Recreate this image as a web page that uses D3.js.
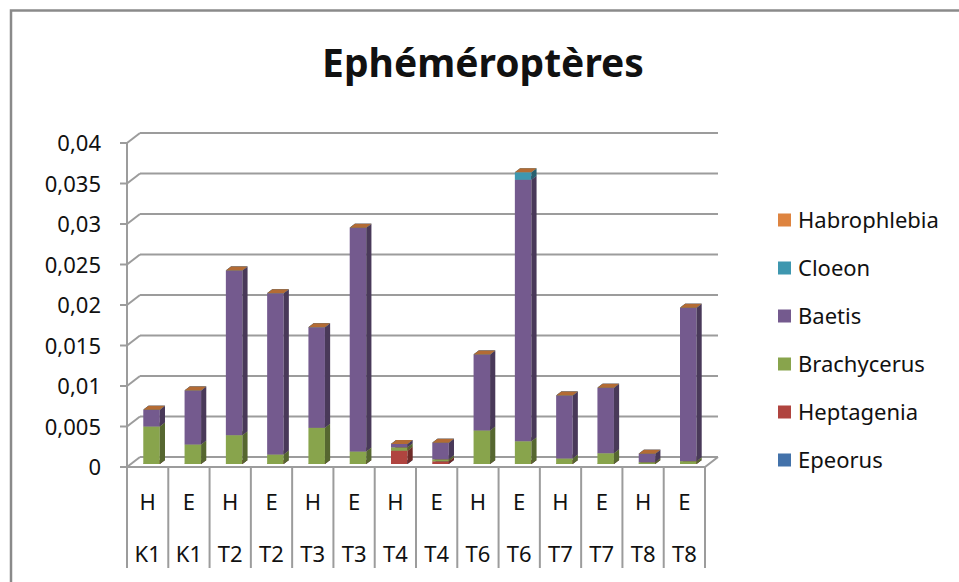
<!DOCTYPE html>
<html>
<head>
<meta charset="utf-8">
<script src="https://cdnjs.cloudflare.com/ajax/libs/d3/7.8.5/d3.min.js"></script>
<style>
  body { margin: 0; background: #fff; }
  text { font-family: "Noto Sans", "Open Sans", sans-serif; fill: #111; }
</style>
</head>
<body>
<div id="chart"></div>
<script>
// categories (two label rows)
var seasons  = ["H","E","H","E","H","E","H","E","H","E","H","E","H","E"];
var stations = ["K1","K1","T2","T2","T3","T3","T4","T4","T6","T6","T7","T7","T8","T8"];

// series, bottom of the stack first
var epeorus      = [0,0,0,0,0,0,0,0,0,0,0,0,0,0];
var heptagenia   = [0,0,0,0,0,0,0.00164,0.00033,0,0,0,0,0,0];
var brachycerus  = [0.00463,0.00241,0.00356,0.00117,0.00447,0.00154,0.00042,0.00025,0.00414,0.00281,0.00068,0.00133,0.00022,0.00035];
var baetis       = [0.00206,0.00666,0.02033,0.01992,0.01242,0.02762,0.00041,0.00205,0.00938,0.03228,0.00778,0.00807,0.00104,0.01893];
var cloeon       = [0,0,0,0,0,0,0,0,0,0.00093,0,0,0,0];
var habrophlebia = [0,0,0,0,0,0,0,0,0,0,0,0,0,0];

var seriesNames = ["Epeorus","Heptagenia","Brachycerus","Baetis","Cloeon","Habrophlebia"];
var seriesValues = [epeorus, heptagenia, brachycerus, baetis, cloeon, habrophlebia];
var seriesColors = ["#4372AA","#B0443F","#88A44C","#745A8E","#3E97AF","#DE8440"];

var yTicks = [0,0.005,0.01,0.015,0.02,0.025,0.03,0.035,0.04];

var width = 959, height = 582;
var plot = {left: 127, right: 705, top: 143, bottom: 467};
var depth = {x: 13, y: -10};          // floor / wall depth
var barFront = 0.3, barDepth = 0.4;   // bar position inside the depth

var svg = d3.select("#chart").append("svg")
    .attr("width", width)
    .attr("height", height);

// outer frame
svg.append("rect")
    .attr("x", 11).attr("y", 10.5)
    .attr("width", 980).attr("height", 600)
    .attr("fill", "none")
    .attr("stroke", "#8a8a8a")
    .attr("stroke-width", 2.5);

svg.append("text")
    .attr("x", 483).attr("y", 77)
    .attr("text-anchor", "middle")
    .style("font-size", "39px")
    .style("font-weight", "bold")
    .text("Ephéméroptères");

var xScale = d3.scaleBand().domain(d3.range(seasons.length)).range([plot.left, plot.right]).padding(0);
var yScale = d3.scaleLinear().domain([0, 0.04]).range([plot.bottom, plot.top]);
var color = d3.scaleOrdinal().domain(seriesNames).range(seriesColors);

var gridColor = "#9c9c9c";

// walls: gridlines on back wall + diagonals on side wall
var grid = svg.append("g");
yTicks.forEach(function(t) {
    var y = yScale(t);
    grid.append("line")
        .attr("x1", plot.left).attr("y1", y)
        .attr("x2", plot.left + depth.x).attr("y2", y + depth.y)
        .attr("stroke", gridColor).attr("stroke-width", 2);
    grid.append("line")
        .attr("x1", plot.left + depth.x).attr("y1", y + depth.y)
        .attr("x2", plot.right + depth.x).attr("y2", y + depth.y)
        .attr("stroke", gridColor).attr("stroke-width", 2);
    grid.append("line")
        .attr("x1", plot.left - 7).attr("y1", y)
        .attr("x2", plot.left).attr("y2", y)
        .attr("stroke", gridColor).attr("stroke-width", 2);
});

// floor
grid.append("path")
    .attr("d", "M" + plot.left + "," + plot.bottom +
               "L" + plot.right + "," + plot.bottom +
               "L" + (plot.right + depth.x) + "," + (plot.bottom + depth.y))
    .attr("fill", "none").attr("stroke", gridColor).attr("stroke-width", 2);

// vertical axis line
grid.append("line")
    .attr("x1", plot.left).attr("y1", plot.top)
    .attr("x2", plot.left).attr("y2", plot.bottom)
    .attr("stroke", gridColor).attr("stroke-width", 2);

// y tick labels
svg.append("g").selectAll("text")
    .data(yTicks)
    .enter().append("text")
    .attr("x", 101)
    .attr("y", function(d) { return yScale(d) + 8; })
    .attr("text-anchor", "end")
    .style("font-size", "22px")
    .text(function(d) { return d === 0 ? "0" : d3.format(".3~f")(d).replace(".", ","); });

// category dividers and labels
var cats = svg.append("g");
d3.range(seasons.length + 1).forEach(function(i) {
    var x = i < seasons.length ? xScale(i) : plot.right;
    cats.append("line")
        .attr("x1", x).attr("y1", plot.bottom)
        .attr("x2", x).attr("y2", 568)
        .attr("stroke", gridColor).attr("stroke-width", 2);
});
cats.selectAll(".season")
    .data(seasons)
    .enter().append("text")
    .attr("x", function(d, i) { return xScale(i) + xScale.bandwidth() / 2; })
    .attr("y", 510)
    .attr("text-anchor", "middle")
    .style("font-size", "22px")
    .text(function(d) { return d; });
cats.selectAll(".station")
    .data(stations)
    .enter().append("text")
    .attr("x", function(d, i) { return xScale(i) + xScale.bandwidth() / 2; })
    .attr("y", 562)
    .attr("text-anchor", "middle")
    .style("font-size", "22px")
    .text(function(d) { return d; });

// stacked 3D bars
var table = seasons.map(function(s, i) {
    var row = {idx: i};
    seriesNames.forEach(function(n, k) { row[n] = seriesValues[k][i]; });
    return row;
});
var stacked = d3.stack().keys(seriesNames)(table);

var bw = xScale.bandwidth() / 2.5;
var fx = depth.x * barFront, fy = depth.y * barFront;
var dx = depth.x * barDepth, dy = depth.y * barDepth;

var bars = svg.append("g");
d3.range(seasons.length).forEach(function(i) {
    var x0 = xScale(i) + (xScale.bandwidth() - bw) / 2 + fx;
    stacked.forEach(function(layer) {
        var seg = layer[i];
        var yb = yScale(seg[0]) + fy, yt = yScale(seg[1]) + fy;
        var c = d3.color(color(layer.key));
        var g = bars.append("g").attr("class", "seg");
        // front
        g.append("rect")
            .attr("x", x0).attr("y", yt)
            .attr("width", bw).attr("height", Math.max(0, yb - yt))
            .attr("fill", c.toString());
        // side
        g.append("path")
            .attr("d", "M" + (x0 + bw) + "," + yb + "L" + (x0 + bw) + "," + yt +
                       "L" + (x0 + bw + dx) + "," + (yt + dy) + "L" + (x0 + bw + dx) + "," + (yb + dy) + "Z")
            .attr("fill", c.darker(1.3).toString());
        // top
        g.append("path")
            .attr("d", "M" + x0 + "," + yt + "L" + (x0 + bw) + "," + yt +
                       "L" + (x0 + bw + dx) + "," + (yt + dy) + "L" + (x0 + dx) + "," + (yt + dy) + "Z")
            .attr("fill", c.darker(0.6).toString());
    });
});

// legend (top series first)
var legendY = [220, 268, 316, 364, 412, 460];
var legend = svg.append("g").selectAll("g")
    .data(seriesNames.slice().reverse())
    .enter().append("g")
    .attr("transform", function(d, i) { return "translate(778," + legendY[i] + ")"; });
legend.append("rect")
    .attr("x", 0).attr("y", -6.5)
    .attr("width", 13).attr("height", 13)
    .attr("fill", function(d) { return color(d); });
legend.append("text")
    .attr("x", 20).attr("y", 8)
    .style("font-size", "22px")
    .text(function(d) { return d; });
</script>
</body>
</html>
